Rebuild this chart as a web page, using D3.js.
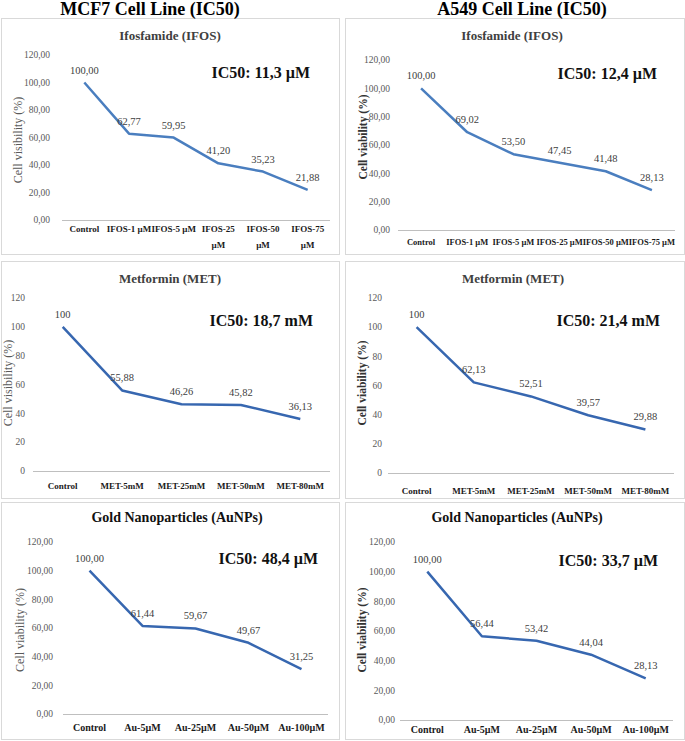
<!DOCTYPE html>
<html>
<head>
<meta charset="utf-8">
<script src="https://cdn.jsdelivr.net/npm/d3@7"></script>
<style>
body{margin:0;background:#fff;}
</style>
</head>
<body>
<svg id="graph"></svg>
<script>
// values
var ifosCatsMcf7 = ["Control","IFOS-1  µM","IFOS-5  µM","IFOS-25|µM","IFOS-50|µM","IFOS-75|µM"]
var ifosCatsA549 = ["Control","IFOS-1 µM","IFOS-5 µM","IFOS-25 µM","IFOS-50 µM","IFOS-75 µM"]
var ifosMcf7 = [100, 62.77, 59.95, 41.20, 35.23, 21.88]
var ifosA549 = [100, 69.02, 53.50, 47.45, 41.48, 28.13]

var metCats = ["Control","MET-5mM","MET-25mM","MET-50mM","MET-80mM"]
var metMcf7 = [100, 55.88, 46.26, 45.82, 36.13]
var metA549 = [100, 62.13, 52.51, 39.57, 29.88]

var auCats = ["Control","Au-5µM","Au-25µM","Au-50µM","Au-100µM"]
var auMcf7 = [100, 61.44, 59.67, 49.67, 31.25]
var auA549 = [100, 56.44, 53.42, 44.04, 28.13]

var yTicks = [0,20,40,60,80,100,120]
var headers = ["MCF7 Cell Line (IC50)","A549 Cell Line (IC50)"]

var screen = {width:685, height:741}
var serif = "'Liberation Serif','Times New Roman','DejaVu Serif',serif"

var svg = d3.select("#graph")
  .attr("width", screen.width)
  .attr("height", screen.height)
  .attr("font-family", serif)
  .style("font-family", serif)

var comma2 = function(d){ return d.toFixed(2).replace(".",",") }
var plain = function(d){ return Number.isInteger(d) ? ""+d : comma2(d) }

// panel layout
var panels = [
  {box:[1,18,338,236], xr:[62,330], yr:[220,55], cats:ifosCatsMcf7, vals:ifosMcf7,
   title:"Ifosfamide (IFOS)", tx:170, ty:35, tsize:13, ic:"IC50: 11,3 µM", icx:310, icy:78,
   ylab:"Cell visibility  (%)", ylx:18, yly:140, ybold:false, tickX:50, xly:232, xsize:9,
   fmt:comma2, color:"#4a7ebf"},
  {box:[345,18,339,236], xr:[398,675], yr:[230,60], cats:ifosCatsA549, vals:ifosA549,
   title:"Ifosfamide (IFOS)", tx:512, ty:35, tsize:13, ic:"IC50: 12,4 µM", icx:657, icy:79,
   ylab:"Cell viability  (%)", ylx:363, yly:137, ybold:true, tickX:390, xly:245, xsize:8.5,
   fmt:comma2, color:"#4a7ebf"},
  {box:[1,261,338,237], xr:[33,330], yr:[471,298], cats:metCats, vals:metMcf7,
   title:"Metformin (MET)", tx:170, ty:278, tsize:13, ic:"IC50: 18,7 mM", icx:313, icy:326,
   ylab:"Cell visibility (%)", ylx:8, yly:383, ybold:false, tickX:25, xly:489, xsize:9,
   fmt:plain, color:"#3767b0"},
  {box:[345,261,339,237], xr:[388,674], yr:[473,298], cats:metCats, vals:metA549,
   title:"Metformin (MET)", tx:513, ty:278, tsize:13, ic:"IC50: 21,4 mM", icx:660, icy:326,
   ylab:"Cell viability  (%)", ylx:362, yly:383, ybold:true, tickX:382, xly:494, xsize:9,
   fmt:plain, color:"#3767b0"},
  {box:[1,502,338,237], xr:[63,328], yr:[714,542], cats:auCats, vals:auMcf7,
   title:"Gold Nanoparticles (AuNPs)", tx:177, ty:517, tsize:14, ic:"IC50: 48,4 µM", icx:318, icy:564,
   ylab:"Cell  viability (%)", ylx:20, yly:630, ybold:false, tickX:53, xly:731, xsize:10,
   fmt:comma2, color:"#3767b0"},
  {box:[345,502,339,237], xr:[400,673], yr:[720,542], cats:auCats, vals:auA549,
   title:"Gold Nanoparticles (AuNPs)", tx:517, ty:517, tsize:14, ic:"IC50: 33,7 µM", icx:658, icy:566,
   ylab:"Cell viability  (%)", ylx:362, yly:630, ybold:true, tickX:395, xly:733, xsize:10,
   fmt:comma2, color:"#3767b0"}
]

var drawPanel = function(p)
{
  var g = svg.append("g")

  g.append("rect")
    .attr("x", p.box[0]+0.5).attr("y", p.box[1]+0.5)
    .attr("width", p.box[2]).attr("height", p.box[3])
    .attr("fill","#fff").attr("stroke","#d9d9d9")

  var xScale = d3.scaleBand()
    .domain(p.cats)
    .range(p.xr)
  var yScale = d3.scaleLinear()
    .domain([0,120])
    .range(p.yr)

  // baseline
  g.append("line")
    .attr("x1", p.xr[0]).attr("x2", p.xr[1])
    .attr("y1", yScale(0)+0.5).attr("y2", yScale(0)+0.5)
    .attr("stroke","#bfbfbf")

  // y tick labels
  g.selectAll(".ytick")
    .data(yTicks)
    .enter()
    .append("text")
    .attr("x", p.tickX)
    .attr("y", function(d){ return yScale(d) })
    .attr("dy","0.35em")
    .attr("text-anchor","end")
    .attr("font-size", 9.5)
    .attr("fill","#595959")
    .text(p.fmt)

  // x labels
  var xl = g.selectAll(".xlab")
    .data(p.cats)
    .enter()
    .append("text")
    .attr("text-anchor","middle")
    .attr("font-size", p.xsize)
    .attr("font-weight","bold")
    .attr("fill","#1a1a1a")
  xl.each(function(c){
    var parts = c.split("|")
    var t = d3.select(this)
    parts.forEach(function(s,i){
      t.append("tspan")
        .attr("x", xScale(c)+xScale.bandwidth()/2)
        .attr("y", p.xly + i*16)
        .text(s)
    })
  })

  var pts = p.cats.map(function(c,i){ return {c:c, v:p.vals[i]} })

  g.append("path")
    .datum(pts)
    .attr("fill","none")
    .attr("stroke", p.color)
    .attr("stroke-width", 2.5)
    .attr("stroke-linejoin","round")
    .attr("d", d3.line()
      .x(function(d){ return xScale(d.c)+xScale.bandwidth()/2 })
      .y(function(d){ return yScale(d.v) }))

  g.selectAll(".dlab")
    .data(pts)
    .enter()
    .append("text")
    .attr("x", function(d){ return xScale(d.c)+xScale.bandwidth()/2 })
    .attr("y", function(d){ return yScale(d.v)-9 })
    .attr("text-anchor","middle")
    .attr("font-size", 10.5)
    .attr("fill","#404040")
    .text(function(d){ return p.fmt(d.v) })

  g.append("text")
    .attr("x", p.tx).attr("y", p.ty)
    .attr("dy","0.35em")
    .attr("text-anchor","middle")
    .attr("font-size", p.tsize)
    .attr("font-weight","bold")
    .attr("fill", p.tsize>13 ? "#111" : "#404040")
    .text(p.title)

  g.append("text")
    .attr("x", p.icx).attr("y", p.icy)
    .attr("text-anchor","end")
    .attr("font-size", 16)
    .attr("font-weight","bold")
    .attr("fill","#111")
    .text(p.ic)

  g.append("g")
    .attr("transform","translate("+p.ylx+","+p.yly+")")
    .append("text")
    .attr("transform","rotate(-90)")
    .attr("text-anchor","middle")
    .attr("dy","0.35em")
    .attr("font-size", p.ybold ? 11.5 : 12)
    .attr("font-weight", p.ybold ? "bold" : "normal")
    .attr("fill", p.ybold ? "#333" : "#595959")
    .text(p.ylab)
}

panels.forEach(drawPanel)

svg.selectAll(".head")
  .data(headers)
  .enter()
  .append("text")
  .attr("x", function(d,i){ return i==0 ? 150 : 522 })
  .attr("y", 15)
  .attr("text-anchor","middle")
  .attr("font-size", 18)
  .attr("font-weight","bold")
  .attr("fill","#000")
  .text(function(d){ return d })
</script>
</body>
</html>
